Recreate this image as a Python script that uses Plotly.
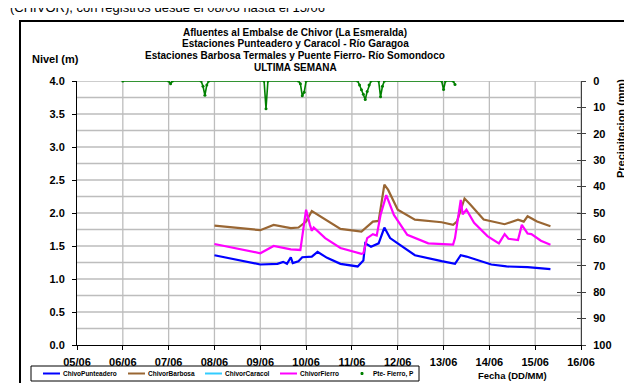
import plotly.graph_objects as go

# ---------------- data ----------------
punteadero_t = ["2013-06-08 00:00", "2013-06-08 14:00", "2013-06-09 00:00", "2013-06-09 09:00",
                "2013-06-09 12:00", "2013-06-09 14:00", "2013-06-09 16:00", "2013-06-09 17:00",
                "2013-06-09 20:00", "2013-06-09 22:00", "2013-06-10 03:00", "2013-06-10 06:00",
                "2013-06-10 11:00", "2013-06-10 18:00", "2013-06-11 03:00", "2013-06-11 06:00",
                "2013-06-11 07:00", "2013-06-11 10:00", "2013-06-11 14:00", "2013-06-11 17:00",
                "2013-06-11 20:00", "2013-06-12 00:00", "2013-06-12 09:00", "2013-06-12 23:00",
                "2013-06-13 06:00", "2013-06-13 09:00", "2013-06-13 12:00", "2013-06-14 01:00",
                "2013-06-14 09:00", "2013-06-14 20:00", "2013-06-15 08:00"]
punteadero_v = [1.36, 1.28, 1.22, 1.23, 1.26, 1.23, 1.33, 1.24, 1.27, 1.33, 1.34, 1.41,
                1.32, 1.23, 1.19, 1.28, 1.54, 1.49, 1.54, 1.78, 1.62, 1.54, 1.36, 1.27,
                1.23, 1.36, 1.34, 1.22, 1.19, 1.18, 1.15]

barbosa_t = ["2013-06-08 00:00", "2013-06-08 14:00", "2013-06-09 00:00", "2013-06-09 07:00",
             "2013-06-09 16:00", "2013-06-09 20:00", "2013-06-10 00:00", "2013-06-10 03:00",
             "2013-06-10 10:00", "2013-06-10 18:00", "2013-06-11 05:00", "2013-06-11 11:00",
             "2013-06-11 14:00", "2013-06-11 17:00", "2013-06-11 19:00", "2013-06-12 00:00",
             "2013-06-12 09:00", "2013-06-12 23:00", "2013-06-13 05:00", "2013-06-13 07:00",
             "2013-06-13 11:00", "2013-06-13 14:00", "2013-06-13 21:00", "2013-06-14 08:00",
             "2013-06-14 15:00", "2013-06-14 18:00", "2013-06-14 20:00", "2013-06-15 01:00",
             "2013-06-15 08:00"]
barbosa_v = [1.81, 1.77, 1.74, 1.82, 1.77, 1.78, 1.87, 2.03, 1.90, 1.76, 1.72, 1.87,
             1.88, 2.43, 2.35, 2.05, 1.90, 1.86, 1.82, 1.87, 2.22, 2.13, 1.90, 1.83,
             1.90, 1.87, 1.95, 1.87, 1.80]

fierro_t = ["2013-06-08 00:00", "2013-06-08 14:00", "2013-06-09 00:00", "2013-06-09 07:00",
            "2013-06-09 16:00", "2013-06-09 21:00", "2013-06-09 22:00", "2013-06-10 00:00",
            "2013-06-10 02:00", "2013-06-10 03:00", "2013-06-10 04:00", "2013-06-10 10:00",
            "2013-06-10 18:00", "2013-06-11 05:00", "2013-06-11 06:00", "2013-06-11 08:00",
            "2013-06-11 11:00", "2013-06-11 13:00", "2013-06-11 15:00", "2013-06-11 18:00",
            "2013-06-11 22:00", "2013-06-12 05:00", "2013-06-12 16:00", "2013-06-13 05:00",
            "2013-06-13 06:00", "2013-06-13 09:00", "2013-06-13 10:00", "2013-06-13 12:00",
            "2013-06-13 16:00", "2013-06-13 23:00", "2013-06-14 05:00", "2013-06-14 08:00",
            "2013-06-14 10:00", "2013-06-14 15:00", "2013-06-14 17:00", "2013-06-14 20:00",
            "2013-06-14 22:00", "2013-06-15 03:00", "2013-06-15 08:00"]
fierro_v = [1.53, 1.45, 1.39, 1.50, 1.45, 1.44, 1.62, 2.05, 1.82, 1.73, 1.78, 1.62,
            1.47, 1.38, 1.39, 1.62, 1.68, 1.66, 1.97, 2.27, 1.97, 1.67, 1.54, 1.52,
            1.62, 2.20, 1.98, 2.05, 1.85, 1.65, 1.54, 1.68, 1.61, 1.59, 1.82, 1.69,
            1.68, 1.58, 1.52]

caracol_t = []
caracol_v = []

precip_t = ["2013-06-06 00:00", "2013-06-07 00:00", "2013-06-07 01:00", "2013-06-07 02:00",
            "2013-06-07 17:00", "2013-06-07 18:00", "2013-06-07 19:00", "2013-06-07 20:00",
            "2013-06-07 21:00", "2013-06-09 02:00", "2013-06-09 03:00", "2013-06-09 04:00",
            "2013-06-09 20:00", "2013-06-09 21:00", "2013-06-09 22:00", "2013-06-09 23:00",
            "2013-06-10 00:00", "2013-06-11 03:00", "2013-06-11 04:00", "2013-06-11 05:00",
            "2013-06-11 06:00", "2013-06-11 07:00", "2013-06-11 08:00", "2013-06-11 09:00",
            "2013-06-11 10:00", "2013-06-11 14:00", "2013-06-11 15:00", "2013-06-11 16:00",
            "2013-06-11 17:00", "2013-06-12 23:00", "2013-06-13 00:00", "2013-06-13 01:00",
            "2013-06-13 05:00", "2013-06-13 06:00"]
precip_v = [0, 0, 1.0, 0, 0, 2.0, 5.4, 1.5, 0, 0, 10.5, 0, 0, 1.0, 5.6, 4.3, 0, 0,
            1.5, 3.3, 5.0, 7.0, 4.0, 1.5, 0, 0, 6.0, 2.0, 0, 0, 3.2, 0, 0, 1.3]

legend_names = ["ChivoPunteadero", "ChivorBarbosa", "ChivorCaracol", "ChivorFierro", "Pte- Fierro, P"]
legend_colors = ["#0000FF", "#996633", "#33CCFF", "#FF00FF", "#008000"]

title_lines = ["Afluentes al Embalse de Chivor (La Esmeralda)",
               "Estaciones Punteadero y Caracol - Río Garagoa",
               "Estaciones Barbosa Termales y Puente Fierro- Río Somondoco",
               "ULTIMA SEMANA"]

x_ticks = ["2013-06-%02d" % d for d in range(5, 17)]
y_ticks = [0, 0.5, 1.0, 1.5, 2.0, 2.5, 3.0, 3.5, 4.0]
y_grid = [0.25, 0.5, 0.75, 1.0, 1.25, 1.5, 1.75, 2.0, 2.25, 2.5, 2.75, 3.0, 3.25, 3.5, 3.75, 4.0]

# ---------------- layout helpers ----------------
W, H = 632, 383
L, R, T, B = 69, 573, 73, 337
FONT = "Arial, Liberation Sans, sans-serif"


def px(x):
    return (x - L) / (R - L)


def py(y):
    return (B - y) / (B - T)


fig = go.Figure()
fig.add_trace(go.Scatter(x=precip_t, y=precip_v, yaxis="y2", mode="lines+markers",
                         line=dict(color=legend_colors[4], width=1.6),
                         marker=dict(size=3, color=legend_colors[4]), name=legend_names[4]))
fig.add_trace(go.Scatter(x=punteadero_t, y=punteadero_v, mode="lines",
                         line=dict(color=legend_colors[0], width=2.2), name=legend_names[0]))
fig.add_trace(go.Scatter(x=barbosa_t, y=barbosa_v, mode="lines",
                         line=dict(color=legend_colors[1], width=2.2), name=legend_names[1]))
fig.add_trace(go.Scatter(x=caracol_t, y=caracol_v, mode="lines",
                         line=dict(color=legend_colors[2], width=2.2), name=legend_names[2]))
fig.add_trace(go.Scatter(x=fierro_t, y=fierro_v, mode="lines",
                         line=dict(color=legend_colors[3], width=2.2), name=legend_names[3]))
fig.add_trace(go.Scatter(x=[], y=[], yaxis="y3", showlegend=False, hoverinfo="skip"))

grid = "#bdbdbd"
tickfont = dict(family=FONT, size=11, color="black", weight="bold")

fig.update_layout(
    width=W, height=H, showlegend=False,
    margin=dict(l=L, r=W - R, t=T, b=H - B, pad=0),
    paper_bgcolor="white", plot_bgcolor="white",
    xaxis=dict(type="date", range=["2013-06-05", "2013-06-16"],
               tickvals=x_ticks, tickformat="%d/%m", tickfont=tickfont,
               showgrid=False,
               showline=True, linecolor="black", linewidth=1,
               ticks="outside", ticklen=4, tickcolor="black", zeroline=False,
               ticklabelstandoff=3),
    yaxis=dict(range=[0, 4], tickvals=y_ticks,
               tickformat=".1f", tickfont=tickfont, showgrid=False,
               showline=True, linecolor="black", linewidth=1,
               ticks="outside", ticklen=4, tickcolor="black", zeroline=False,
               ticklabelstandoff=5),
    yaxis2=dict(range=[100, 0], dtick=10, overlaying="y", side="right", tickfont=tickfont,
                showgrid=False, showline=True, linecolor="#404040", linewidth=1,
                ticks="outside", ticklen=4, tickcolor="#404040", zeroline=False,
                ticklabelstandoff=5),
    yaxis3=dict(range=[100, 0], dtick=10, overlaying="y", side="right",
                showgrid=False, showline=False, showticklabels=False,
                ticks="inside", ticklen=4, tickcolor="#404040", zeroline=False),
)

shapes = []
ann = []
for xv in x_ticks[1:]:
    shapes.append(dict(type="line", xref="x", yref="paper", x0=xv, x1=xv, y0=0, y1=1,
                       layer="below", line=dict(color=grid, width=1.3)))
for yv in y_grid:
    shapes.append(dict(type="line", xref="paper", yref="y", x0=0, x1=1, y0=yv, y1=yv,
                       layer="below", line=dict(color=grid, width=1.3)))

shapes.append(dict(type="rect", xref="paper", yref="paper",
                   x0=px(12), x1=px(626), y0=py(13), y1=py(381),
                   line=dict(color="black", width=2), fillcolor="rgba(0,0,0,0)"))

ann.append(dict(text="(CHIVOR), con registros desde el 08/06 hasta el 15/06", x=px(0), y=py(0),
                xref="paper", yref="paper", xanchor="left", yanchor="middle", showarrow=False,
                font=dict(family=FONT, size=13, color="black")))

for t, yy in zip(title_lines, [24, 35.5, 47, 59]):
    ann.append(dict(text=t, x=px(287), y=py(yy), xref="paper", yref="paper",
                    xanchor="center", yanchor="middle", showarrow=False,
                    font=dict(family=FONT, size=10, color="black", weight="bold")))

ann.append(dict(text="Nivel (m)", x=px(22), y=py(51), xref="paper", yref="paper",
                xanchor="left", yanchor="middle", showarrow=False,
                font=dict(family=FONT, size=11, color="black", weight="bold")))
ann.append(dict(text="Precipitacion (mm)", x=px(613), y=py(121), xref="paper", yref="paper",
                xanchor="center", yanchor="middle", showarrow=False, textangle=-90,
                font=dict(family=FONT, size=11, color="black", weight="bold")))
ann.append(dict(text="Fecha (DD/MM)", x=px(468), y=py(367), xref="paper", yref="paper",
                xanchor="left", yanchor="middle", showarrow=False,
                font=dict(family=FONT, size=9.5, color="black", weight="bold")))

shapes.append(dict(type="rect", xref="paper", yref="paper",
                   x0=px(23), x1=px(411), y0=py(358), y1=py(373),
                   line=dict(color="black", width=1), fillcolor="white"))
starts = [35, 120, 197, 272, 350]
for i, (name, col, sx) in enumerate(zip(legend_names, legend_colors, starts)):
    if i < 4:
        shapes.append(dict(type="line", xref="paper", yref="paper",
                           x0=px(sx), x1=px(sx + 17), y0=py(365.5), y1=py(365.5),
                           line=dict(color=col, width=2)))
        tx = sx + 18
    else:
        shapes.append(dict(type="rect", xref="paper", yref="paper",
                           x0=px(sx + 3), x1=px(sx + 5), y0=py(364.5), y1=py(366.5),
                           line=dict(color=col, width=1), fillcolor=col))
        tx = sx + 13
    ann.append(dict(text=name, x=px(tx), y=py(365.5), xref="paper", yref="paper",
                    xanchor="left", yanchor="middle", showarrow=False,
                    font=dict(family=FONT, size=6.5, color="black", weight="bold")))

fig.update_layout(shapes=shapes, annotations=ann)
fig.write_html("out.html")
